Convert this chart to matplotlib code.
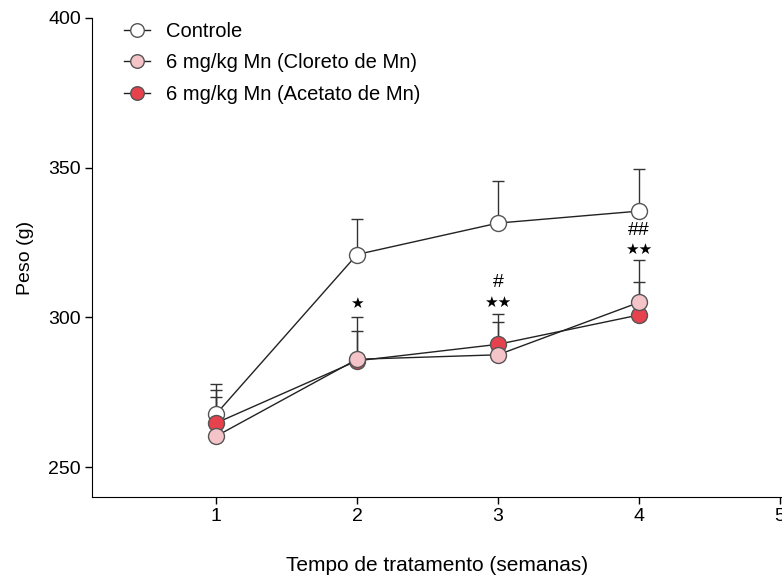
import matplotlib
matplotlib.use("Agg")
import matplotlib.pyplot as plt
import numpy as np

plt.rcParams["font.family"] = ["Liberation Sans", "DejaVu Sans"]

# weekly body weight (g), mean + SEM
weeks = [1, 2, 3, 4]
controle = [267.7, 321.0, 331.5, 335.5]
controle_err = [10, 12, 14, 14]
cloreto = [260.3, 286.0, 287.5, 305.0]
cloreto_err = [13, 14, 11, 14]
acetato = [264.7, 285.5, 291.0, 300.8]
acetato_err = [11, 10, 10, 11]

# significance marks: (week, y, text)
marks = [(2, 304.5, "\u2605"), (3, 305.0, "\u2605\u2605"), (3, 311.5, "#"),
         (4, 322.7, "\u2605\u2605"), (4, 329.0, "##")]

fig = plt.figure(figsize=(7.82, 5.85), dpi=100)
ax = fig.add_axes([92 / 782, 1 - 497 / 585, 690 / 782, (497 - 18) / 585])

series = [
    ("Controle", controle, controle_err, "white", 3),
    ("6 mg/kg Mn (Cloreto de Mn)", cloreto, cloreto_err, "#f5c4c8", 5),
    ("6 mg/kg Mn (Acetato de Mn)", acetato, acetato_err, "#e5424e", 4),
]
for label, vals, err, color, z in series:
    ax.errorbar(weeks, vals, yerr=[np.zeros(len(err)), err], fmt="none",
                ecolor="#333333", elinewidth=1, capsize=4, capthick=1, zorder=2)
    ax.plot(weeks, vals, "-o", color="#222222", lw=1, ms=11.5,
            mfc=color, mec="#555555", mew=1, label=label, zorder=z)

for x, y, t in marks:
    if "#" in t:
        ax.text(x, y, t, ha="center", va="center", fontsize=14)
    else:
        ax.text(x, y, t, ha="center", va="center", fontsize=11,
                family="DejaVu Sans")

ax.set_xlim(0.12, 5.014)
ax.set_ylim(240, 400)
ax.set_xticks([1, 2, 3, 4, 5])
ax.set_yticks([250, 300, 350, 400])
ax.tick_params(labelsize=14, length=5, width=1, pad=3)
for s in ["top", "right"]:
    ax.spines[s].set_visible(False)
ax.set_ylabel("Peso (g)", fontsize=14, labelpad=10)
ax.set_xlabel("Tempo de tratamento (semanas)", fontsize=15, labelpad=22)

ax.legend(loc="upper left", bbox_to_anchor=(0.02, 1.03), frameon=False,
          fontsize=14.5, markerscale=0.85, handlelength=1.3,
          handletextpad=0.8, labelspacing=0.62)

fig.savefig("out.png", dpi=100)
